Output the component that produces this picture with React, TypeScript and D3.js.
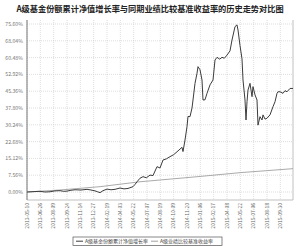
import React, { useEffect, useRef } from 'react';
import * as d3 from 'd3';

const title = 'A级基金份额累计净值增长率与同期业绩比较基准收益率的历史走势对比图';
const seriesNames = ['A级基金份额累计净值增长率', 'A级业绩比较基准收益率'];

// x tick labels, one every 40 trading-day units
const dateLabels = [
  '2013-05-10', '2013-06-26', '2013-08-09', '2013-09-24', '2013-11-14',
  '2013-12-27', '2014-02-19', '2014-04-03', '2014-05-22', '2014-07-07',
  '2014-08-19', '2014-10-09', '2014-11-20', '2015-01-06', '2015-02-17',
  '2015-04-08', '2015-05-22', '2015-07-06', '2015-08-18', '2015-09-30',
];
const yTicks = [0, 7.56, 15.12, 22.68, 30.24, 37.8, 45.36, 52.92, 60.48, 68.04, 75.6];

// day index / cumulative %
const navDays = [
  0, 12, 24, 39, 54, 69, 84, 99, 110, 120, 132, 144, 162, 180, 192, 204, 212, 219, 228, 240,
  252, 264, 279, 291, 303, 318, 324, 330, 339, 348, 358, 369, 378, 390, 399, 408, 418, 429,
  440, 450, 465, 468, 474, 480, 483, 489, 495, 498, 504, 510, 513, 519, 525, 528, 534, 540,
  549, 558, 564, 570, 578, 585, 592, 600, 609, 615, 624, 630, 633, 639, 645, 648, 654, 657,
  660, 663, 669, 675, 678, 684, 690, 693, 699, 705, 708, 714, 720, 729, 738, 744, 750, 753,
  759, 768, 774, 780, 789, 798,
];
const navValues = [
  0, 0.1, 0.2, 0.3, 0.0, 0.1, 0.5, 0.6, 0.3, 0.4, 0.8, 1.0, 0.9, 1.2, 0.9, 0.5, 0.1, -0.3, 0.6, 1.3,
  1.0, 1.2, 1.8, 1.4, 1.6, 2.4, 3.4, 4.6, 6.2, 6.9, 6.4, 7.6, 7.4, 11.4, 10.8, 14.4, 14.9, 15.9,
  16.8, 18.1, 20.1, 18.2, 23.4, 29.4, 34.0, 33.9, 37.8, 41.4, 48.9, 53.4, 56.4, 55.0, 50.4, 41.4, 41.5, 44.4,
  48.2, 50.4, 59.4, 60.6, 59.8, 60.6, 60.2, 61.6, 63.5, 68.4, 74.4, 75.2, 72.9, 65.9, 59.9, 50.4, 41.4, 32.4,
  40.6, 45.9, 48.9, 42.9, 47.4, 43.7, 41.4, 30.1, 33.9, 32.4, 34.7, 32.8, 33.2, 34.7, 38.4, 40.6, 44.4, 45.1,
  45.1, 44.4, 45.6, 45.1, 46.6, 46.6,
];
const benchDays = [0, 99, 219, 339, 399, 519, 639, 798];
const benchValues = [0, 0.9, 2.4, 4.6, 5.4, 7.0, 8.7, 10.5];

const W = 300;
const H = 246;

function App() {
  const svgRef = useRef<SVGSVGElement>(null);

  useEffect(() => {
    document.body.style.margin = '0';
    const svg = d3.select(svgRef.current);
    svg.selectAll('*').remove();

    const left = 27, right = 293, top = 20, bottom = 200;
    const x = d3.scaleLinear().domain([0, 798]).range([left, right]);
    const y = d3.scaleLinear().domain([-3.6, 77.4]).range([bottom, top]);
    const font = '"Noto Sans CJK SC", "Noto Sans", sans-serif';

    svg.append('text')
      .attr('x', W / 2).attr('y', 12)
      .attr('text-anchor', 'middle')
      .attr('font-family', font).attr('font-weight', 'bold')
      .attr('font-size', 8.2).attr('fill', '#222')
      .text(title);

    const grid = svg.append('g')
      .attr('stroke', '#c8c8c8').attr('stroke-width', 0.6)
      .attr('stroke-dasharray', '1,1');
    grid.selectAll('line.h').data(yTicks).join('line')
      .attr('x1', left).attr('x2', right)
      .attr('y1', d => y(d)).attr('y2', d => y(d));
    grid.selectAll('line.v').data(dateLabels).join('line')
      .attr('x1', (_, i) => x(i * 40)).attr('x2', (_, i) => x(i * 40))
      .attr('y1', top).attr('y2', bottom);

    // frame
    svg.append('path')
      .attr('d', `M${right},${top}V${bottom}H${left}`)
      .attr('fill', 'none').attr('stroke', '#b0b0b0').attr('stroke-width', 0.8);
    svg.append('line')
      .attr('x1', left).attr('x2', left).attr('y1', top).attr('y2', bottom)
      .attr('stroke', '#777').attr('stroke-width', 1);

    svg.append('g').selectAll('text').data(yTicks).join('text')
      .attr('x', left - 4).attr('y', d => y(d) + 2)
      .attr('text-anchor', 'end')
      .attr('font-family', font).attr('font-size', 5.2).attr('fill', '#777')
      .text(d => d.toFixed(2) + '%');

    svg.append('g').selectAll('text').data(dateLabels).join('text')
      .attr('transform', (_, i) => `translate(${x(i * 40) + 1.8},${bottom + 3}) rotate(-90)`)
      .attr('text-anchor', 'end')
      .attr('font-family', font).attr('font-size', 5).attr('fill', '#666')
      .text(d => d);

    const bench = benchDays.map((d, i) => [x(d), y(benchValues[i])] as [number, number]);
    svg.append('path')
      .attr('d', d3.line()(bench))
      .attr('fill', 'none').attr('stroke', '#a0a0a0').attr('stroke-width', 0.9);
    const nav = navDays.map((d, i) => [x(d), y(navValues[i])] as [number, number]);
    svg.append('path')
      .attr('d', d3.line()(nav))
      .attr('fill', 'none').attr('stroke', '#3c3c3c').attr('stroke-width', 1)
      .attr('stroke-linejoin', 'round');

    // legend
    const lg = svg.append('g');
    lg.append('rect')
      .attr('x', 73).attr('y', 237).attr('width', 149).attr('height', 8.5)
      .attr('fill', 'none').attr('stroke', '#555').attr('stroke-width', 0.7);
    const items = [
      { x: 76, color: '#3c3c3c', name: seriesNames[0] },
      { x: 151, color: '#a0a0a0', name: seriesNames[1] },
    ];
    items.forEach(it => {
      lg.append('line')
        .attr('x1', it.x).attr('x2', it.x + 7).attr('y1', 241.2).attr('y2', 241.2)
        .attr('stroke', it.color).attr('stroke-width', 1);
      lg.append('text')
        .attr('x', it.x + 9).attr('y', 243)
        .attr('font-family', font).attr('font-size', 5).attr('fill', '#444')
        .text(it.name);
    });
  }, []);

  return <svg ref={svgRef} width={W} height={H} style={{ display: 'block' }} />;
}

export default App;
